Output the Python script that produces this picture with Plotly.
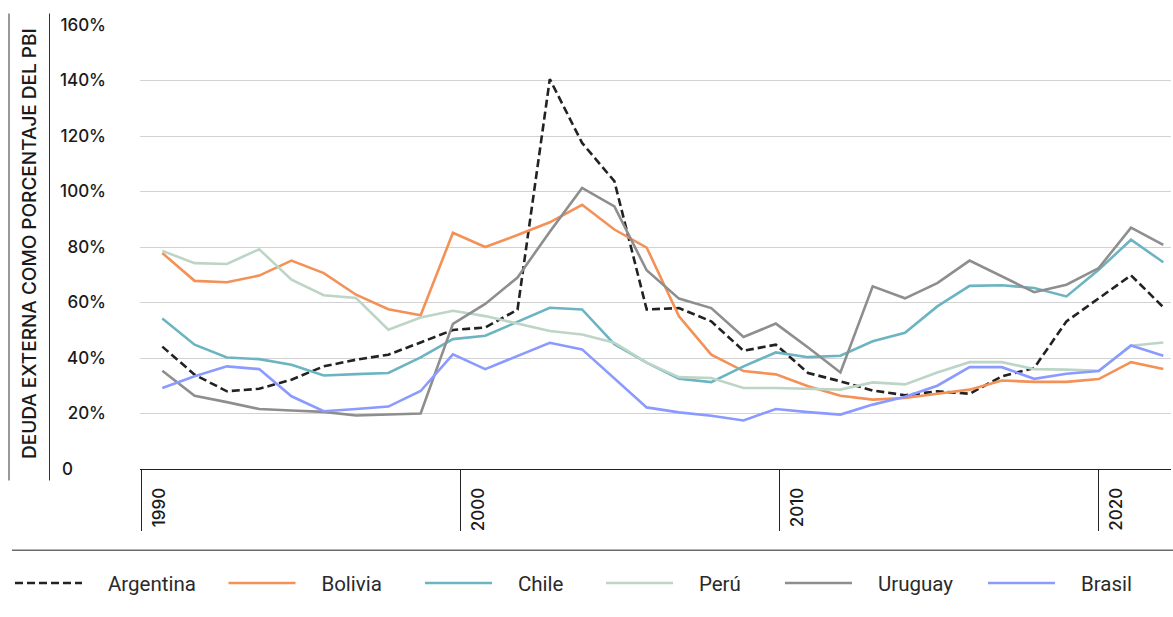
import plotly.graph_objects as go

# ---------------- data ----------------
years = list(range(1990, 2022))

argentina = [44.1, 34.0, 28.0, 28.9, 32.2, 37.0, 39.4, 41.2, 45.6, 50.1, 51.0, 57.4,
             140.5, 117.5, 103.7, 57.5, 58.0, 53.2, 42.6, 44.8, 34.6, 31.6, 28.3, 26.6,
             28.0, 27.1, 33.4, 36.4, 53.2, 61.4, 69.8, 58.3]
bolivia = [77.8, 67.8, 67.3, 69.7, 75.1, 70.6, 62.8, 57.6, 55.4, 85.1, 80.0, 84.3,
           88.9, 95.2, 86.3, 79.8, 55.0, 41.2, 35.3, 34.1, 29.8, 26.4, 25.0, 25.6,
           27.1, 28.6, 31.9, 31.4, 31.4, 32.4, 38.5, 36.0]
chile = [54.2, 44.8, 40.2, 39.6, 37.6, 33.7, 34.2, 34.6, 40.2, 46.8, 48.0, 53.0,
         58.1, 57.5, 45.0, 38.3, 32.5, 31.3, 37.0, 42.0, 40.3, 40.8, 46.0, 49.1,
         58.6, 66.0, 66.2, 65.2, 62.2, 71.8, 82.6, 74.5]
peru = [78.6, 74.2, 73.9, 79.2, 68.2, 62.6, 61.6, 50.2, 54.6, 57.0, 55.1, 52.4,
        49.7, 48.5, 45.5, 38.3, 33.1, 32.8, 29.2, 29.2, 28.9, 28.6, 31.2, 30.5,
        34.8, 38.5, 38.5, 36.0, 35.8, 35.4, 44.4, 45.6]
uruguay = [35.4, 26.4, 24.1, 21.6, 21.1, 20.6, 19.3, 19.6, 20.0, 52.3, 59.5, 69.0,
           85.5, 101.3, 94.6, 71.6, 61.4, 58.0, 47.6, 52.4, 43.8, 34.8, 65.8, 61.5,
           67.0, 75.1, 69.4, 63.7, 66.4, 72.4, 87.0, 80.8]
brasil = [29.2, 33.4, 37.0, 36.0, 26.2, 20.8, 21.6, 22.5, 28.1, 41.3, 36.0, 40.7,
          45.5, 43.1, 32.6, 22.2, 20.4, 19.2, 17.5, 21.6, 20.5, 19.6, 23.2, 26.0,
          30.0, 36.7, 36.7, 32.5, 34.3, 35.3, 44.5, 40.8]

series_names = ["Argentina", "Bolivia", "Chile", "Perú", "Uruguay", "Brasil"]
series_values = [argentina, bolivia, chile, peru, uruguay, brasil]

x_tick_labels = ["1990", "2000", "2010", "2020"]
y_tick_values = [0, 20, 40, 60, 80, 100, 120, 140, 160]
y_tick_labels = ["0\u2007\u2007\u2007", "20%", "40%", "60%", "80%", "100%", "120%", "140%", "160%"]
y_title = "DEUDA EXTERNA COMO PORCENTAJE DEL PBI"

# ---------------- style ----------------
colors = ["#222222", "#F39157", "#6CB4C2", "#BDD5C6", "#8E8E8E", "#8B9AFF"]
dashes = ["8px,4px", "solid", "solid", "solid", "solid", "solid"]

W, H = 1173, 617
ML, MR, MT, MB = 140, 2, 24.5, 147.5
PW, PH = W - ML - MR, H - MT - MB


def px2x(px):
    return (px - ML) / PW


def px2y(py):
    return (H - MB - py) / PH


# tick marks sit slightly left of the year points in the reference
tick_pos = [1989.36, 1999.23, 2009.11, 2018.98]
legend_starts = [15, 228.5, 425, 606, 785, 988]

fig = go.Figure()
for i, (name, vals) in enumerate(zip(series_names, series_values)):
    lg = "legend" if i == 0 else f"legend{i + 1}"
    fig.add_trace(go.Scatter(
        x=years, y=vals, mode="lines", name="\u2003" + name,
        line=dict(color=colors[i], width=2.6, dash=dashes[i]),
        legend=lg, hoverinfo="skip",
    ))

legend_common = dict(
    orientation="h", yanchor="middle", xanchor="left",
    font=dict(family="Roboto", size=20.5, color="#2a2a2a"),
    itemwidth=67, bgcolor="rgba(0,0,0,0)", borderwidth=0,
    tracegroupgap=0, itemclick=False, itemdoubleclick=False,
)
legends = {}
for i, s in enumerate(legend_starts):
    key = "legend" if i == 0 else f"legend{i + 1}"
    legends[key] = dict(legend_common, x=px2x(s - 5), y=px2y(584))

fig.update_layout(
    width=W, height=H,
    margin=dict(l=ML, r=MR, t=MT, b=MB, pad=0),
    paper_bgcolor="white", plot_bgcolor="white",
    showlegend=True,
    font=dict(family="Inter", color="#1a1a1a"),
    **legends,
)

tick_font = dict(family="Inter", size=17, color="#1a1a1a", weight=500)

fig.update_xaxes(
    range=[1989.309, 2021.238],
    tickmode="array", tickvals=tick_pos, ticktext=x_tick_labels,
    ticks="outside", ticklen=61, tickwidth=1, tickcolor="#222222",
    tickangle=-90, ticklabelshift=18, ticklabelstandoff=-50,
    tickfont=tick_font,
    showline=True, linecolor="#222222", linewidth=1,
    showgrid=False, zeroline=False, fixedrange=True,
)
fig.update_yaxes(
    range=[0, 160],
    tickmode="array", tickvals=y_tick_values, ticktext=y_tick_labels,
    ticks="", ticklabelstandoff=33,
    tickfont=tick_font,
    showgrid=True, gridcolor="#d2d2d2", gridwidth=1,
    zeroline=False, showline=False, fixedrange=True,
)

fig.add_annotation(
    xref="paper", yref="paper", x=px2x(29), y=px2y(244),
    text=y_title, textangle=-90, showarrow=False,
    xanchor="center", yanchor="middle",
    font=dict(family="Inter", size=19, color="#1a1a1a", weight=500),
)

line_style = dict(color="#333333", width=1)
fig.add_shape(type="line", xref="paper", yref="paper",
              x0=px2x(9), x1=px2x(9), y0=px2y(13), y1=px2y(481), line=line_style)
fig.add_shape(type="line", xref="paper", yref="paper",
              x0=px2x(49.5), x1=px2x(49.5), y0=px2y(13), y1=px2y(481), line=line_style)
fig.add_shape(type="line", xref="paper", yref="paper",
              x0=px2x(12), x1=px2x(1173), y0=px2y(551), y1=px2y(551),
              line=dict(color="#6a6a6a", width=1.6))

fig.write_html(
    "out.html",
    config={"displayModeBar": False, "staticPlot": True},
    post_script="document.body.style.margin='0';document.body.style.overflow='hidden';",
)
